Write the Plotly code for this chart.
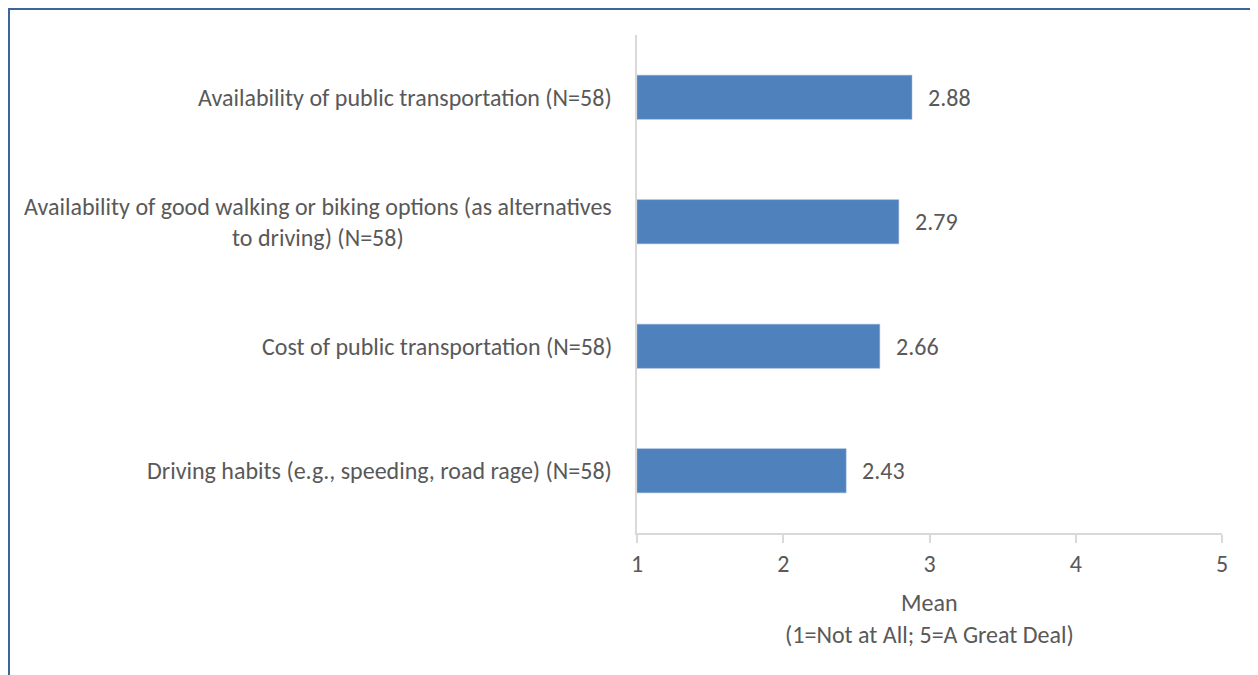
import plotly.graph_objects as go

categories = [
    "Driving habits (e.g., speeding, road rage) (N=58)",
    "Cost of public transportation (N=58)",
    "Availability of good walking or biking options (as alternatives<br>to driving) (N=58)",
    "Availability of public transportation (N=58)",
]
means = [2.43, 2.66, 2.79, 2.88]
x_ticks = [1, 2, 3, 4, 5]
x_title_1 = "Mean"
x_title_2 = "(1=Not at All; 5=A Great Deal)"

FONT = "Carlito, Calibri, sans-serif"
TXT = "#595959"
FS = 24
# page body has an 8px margin, so the figure is sized to fit the window
W, H = 1250, 667
L, T = 629, 27
PR, PB = 1214, 525          # plot right / bottom in figure pixels
R, B = W - PR, H - PB
pw, ph = PR - L, PB - T

fig = go.Figure(go.Bar(
    y=list(range(len(categories))), x=[m - 1 for m in means], base=1,
    orientation="h", width=0.355,
    marker=dict(color="#4F81BD", line=dict(color="#8EAADB", width=0.5)),
    hoverinfo="skip",
))

ann = []
for i, c in enumerate(categories):
    ann.append(dict(xref="paper", yref="y", x=0, y=i, xanchor="right", yanchor="middle",
                    xshift=-23, text=c, align="center", showarrow=False,
                    font=dict(family=FONT, size=FS, color=TXT)))
    ann.append(dict(xref="x", yref="y", x=means[i], y=i, xanchor="left", yanchor="middle",
                    xshift=14, text=f"{means[i]:.2f}", showarrow=False,
                    font=dict(family=FONT, size=FS, color=TXT)))
ann.append(dict(xref="paper", yref="paper", x=0.5, y=0, yanchor="middle", yshift=-(594 - PB),
                text=x_title_1, showarrow=False, font=dict(family=FONT, size=FS, color=TXT)))
ann.append(dict(xref="paper", yref="paper", x=0.5, y=0, yanchor="middle", yshift=-(626 - PB),
                text=x_title_2, showarrow=False, font=dict(family=FONT, size=FS, color=TXT)))

# outer border in paper coordinates
bx0, bx1, by0, by1 = 1, 1249, 1, 700
shape = dict(type="rect", xref="paper", yref="paper",
             x0=(bx0 - L) / pw, x1=(bx1 - L) / pw,
             y0=(PB - by1) / ph, y1=(PB - by0) / ph,
             line=dict(color="#3B6699", width=2), fillcolor="rgba(0,0,0,0)", layer="above")

fig.update_layout(
    width=W, height=H, margin=dict(l=L, r=R, t=T, b=B, autoexpand=False),
    paper_bgcolor="white", plot_bgcolor="white", showlegend=False,
    annotations=ann, shapes=[shape],
    xaxis=dict(range=[1, 5], tickvals=x_ticks, showgrid=False, zeroline=False,
               showline=True, linecolor="#D9D9D9", linewidth=1.5,
               ticks="outside", ticklen=8, tickcolor="#D9D9D9", tickwidth=1.5,
               tickfont=dict(family=FONT, size=FS, color=TXT)),
    yaxis=dict(range=[-0.5, len(categories) - 0.5], showticklabels=False, showgrid=False,
               zeroline=False, showline=True, linecolor="#D9D9D9", linewidth=1.5, ticks=""),
)
fig.write_html("out.html")
